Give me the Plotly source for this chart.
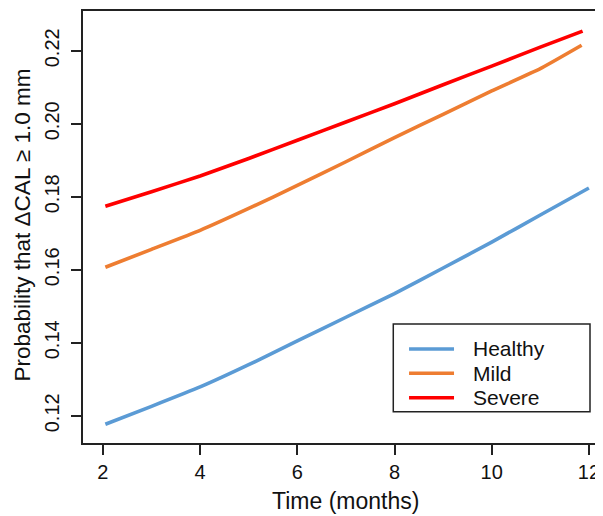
import plotly.graph_objects as go

series_names = ["Healthy", "Mild", "Severe"]
series_colors = ["#5B9BD5", "#EE7D31", "#FF0000"]

healthy_x = [2.05, 3, 4, 5, 6, 7, 8, 9, 10, 11, 12.0]
healthy_y = [0.1177, 0.1226, 0.1279, 0.1340, 0.1405, 0.1470, 0.1535, 0.1605, 0.1676, 0.1750, 0.1824]

mild_x = [2.05, 3, 4, 5, 6, 7, 8, 9, 10, 11, 11.85]
mild_y = [0.1607, 0.1656, 0.1708, 0.1768, 0.1831, 0.1896, 0.1962, 0.2026, 0.2090, 0.2151, 0.2215]

severe_x = [2.05, 3, 4, 5, 6, 7, 8, 9, 10, 11, 11.87]
severe_y = [0.1774, 0.1814, 0.1857, 0.1905, 0.1955, 0.2005, 0.2055, 0.2107, 0.2158, 0.2210, 0.2254]

x_ticks = [2, 4, 6, 8, 10, 12]
y_ticks = [0.12, 0.14, 0.16, 0.18, 0.20, 0.22]
y_tick_labels = ["0.12", "0.14", "0.16", "0.18", "0.20", "0.22"]

x_title = "Time (months)"
y_title = "Probability that ΔCAL ≥ 1.0 mm"

FONT = "Liberation Sans, Arial, Helvetica, sans-serif"

fig = go.Figure()
for name, color, xs, ys in zip(series_names, series_colors,
                               [healthy_x, mild_x, severe_x],
                               [healthy_y, mild_y, severe_y]):
    fig.add_trace(go.Scatter(x=xs, y=ys, mode="lines", name=name,
                             line=dict(color=color, width=3.6, shape="spline", smoothing=0.4),
                             showlegend=False))

# the page body adds an 8px offset, so the figure is 8px smaller than the window
fig.update_layout(
    width=595, height=508,
    margin=dict(l=75, r=0, t=3, b=73, autoexpand=False),
    paper_bgcolor="white", plot_bgcolor="white",
    font=dict(family=FONT, size=20, color="#111"),
    xaxis=dict(range=[1.59, 12.29], tickvals=x_ticks, ticks="outside", ticklen=10,
               tickwidth=1.5, tickcolor="#222", showline=True, linecolor="#222",
               linewidth=1.6, mirror=True, showgrid=False, zeroline=False,
               tickfont=dict(size=20), automargin=False),
    yaxis=dict(range=[0.11255, 0.2309], tickvals=y_ticks, ticktext=y_tick_labels,
               ticks="outside", ticklen=10, tickwidth=1.5, tickcolor="#222",
               showline=True, linecolor="#222", linewidth=1.6, showgrid=False,
               zeroline=False, tickangle=-90, tickfont=dict(size=20), automargin=False,
               ticklabelstandoff=4),
)

# axis titles
fig.add_annotation(xref="paper", yref="paper", x=0.5048, y=-0.1343, text=x_title,
                   showarrow=False, xanchor="center", yanchor="middle",
                   font=dict(size=23, color="#111"))
fig.add_annotation(xref="paper", yref="paper", x=-0.1173, y=0.5035, text=y_title,
                   showarrow=False, xanchor="center", yanchor="middle", textangle=-90,
                   font=dict(size=22.5, color="#111"))

# legend drawn in plot-area paper coordinates
box = dict(x0=0.5967, x1=0.975, y0=0.0725, y1=0.2755)
fig.add_shape(type="rect", xref="paper", yref="paper", line=dict(color="#222", width=1.5),
              fillcolor="white", **box)
row_y = [0.2176, 0.1613, 0.1049]
for name, color, ry in zip(series_names, series_colors, row_y):
    fig.add_shape(type="line", xref="paper", yref="paper", x0=0.627, x1=0.7135, y0=ry, y1=ry,
                  line=dict(color=color, width=3.6))
    fig.add_annotation(xref="paper", yref="paper", x=0.7456, y=ry, text=name, showarrow=False,
                       xanchor="left", yanchor="middle", font=dict(size=21, color="#111"))

fig.write_html("out.html")
